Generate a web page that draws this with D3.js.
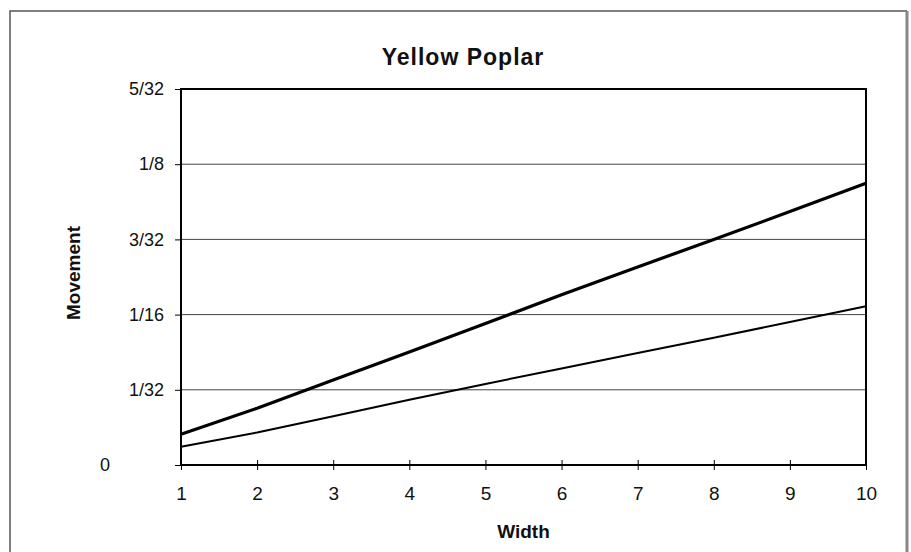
<!DOCTYPE html>
<html>
<head>
<meta charset="utf-8">
<script src="https://cdn.jsdelivr.net/npm/d3@7"></script>
<style>
    body { margin: 0; background: #fff; }
    text { font-family: "Liberation Sans", Arial, sans-serif; fill: #111; }
    .grid line { stroke: #444; stroke-width: 1; }
    .axis path, .axis line { stroke: #000; }
</style>
</head>
<body>
<script>
// data (movement in inches)
var widths = [1, 2, 3, 4, 5, 6, 7, 8, 9, 10];
var thickSeries = [0.0128, 0.0236, 0.0353, 0.0470, 0.0588, 0.0707, 0.0823, 0.0937, 0.1053, 0.1171];
var thinSeries = [0.0076, 0.0135, 0.0203, 0.0271, 0.0337, 0.0401, 0.0465, 0.0529, 0.0594, 0.0660];
var yTickValues = [0, 1 / 32, 1 / 16, 3 / 32, 1 / 8, 5 / 32];
var yTickLabels = ['0', '1/32', '1/16', '3/32', '1/8', '5/32'];
var xTickValues = [1, 2, 3, 4, 5, 6, 7, 8, 9, 10];

var width = 911,
    height = 552,
    margin = { top: 89, right: 45, bottom: 87, left: 181 },
    plotWidth = width - margin.left - margin.right,
    plotHeight = height - margin.top - margin.bottom;

var svg = d3.select('body').append('svg')
    .attr('width', width)
    .attr('height', height);

svg.append('rect')
    .attr('width', width)
    .attr('height', height)
    .attr('fill', '#fff');

// outer chart frame
svg.append('path')
    .attr('d', 'M10,560 L10,11 L907,11')
    .attr('fill', 'none')
    .attr('stroke', '#555')
    .attr('stroke-width', 1.5);
svg.append('line')
    .attr('x1', 907).attr('y1', 11).attr('x2', 907).attr('y2', 560)
    .attr('stroke', '#888')
    .attr('stroke-width', 3);

var x = d3.scaleLinear()
    .domain([1, 10])
    .range([0, plotWidth]);

var y = d3.scaleLinear()
    .domain([0, 5 / 32])
    .range([plotHeight, 0]);

var g = svg.append('g')
    .attr('transform', 'translate(' + margin.left + ',' + margin.top + ')');

// horizontal gridlines
g.append('g')
    .attr('class', 'grid')
    .selectAll('line')
    .data(yTickValues.slice(1, -1))
    .enter().append('line')
    .attr('x1', 0)
    .attr('x2', plotWidth)
    .attr('y1', d => y(d))
    .attr('y2', d => y(d));

// plot frame
g.append('rect')
    .attr('width', plotWidth)
    .attr('height', plotHeight)
    .attr('fill', 'none')
    .attr('stroke', '#000')
    .attr('stroke-width', 2);

var yAxis = d3.axisLeft(y)
    .tickValues(yTickValues)
    .tickFormat((d, i) => yTickLabels[i])
    .tickSize(6)
    .tickPadding(11);

var yAxisG = g.append('g')
    .attr('class', 'axis')
    .call(yAxis);
yAxisG.select('.domain').remove();
yAxisG.selectAll('text')
    .style('font-size', '18px');
// Excel put the zero label further out
yAxisG.selectAll('.tick')
    .filter(d => d === 0)
    .select('text')
    .attr('x', -71);

var xAxis = d3.axisBottom(x)
    .tickValues(xTickValues)
    .tickFormat(d3.format('d'))
    .tickSizeInner(5)
    .tickSizeOuter(0)
    .tickPadding(17);

var xAxisG = g.append('g')
    .attr('class', 'axis')
    .attr('transform', 'translate(0,' + plotHeight + ')')
    .call(xAxis);
xAxisG.select('.domain').remove();
xAxisG.selectAll('.tick line')
    .attr('y1', -5);
xAxisG.selectAll('text')
    .style('font-size', '19px');

var line = d3.line()
    .x((d, i) => x(widths[i]))
    .y(d => y(d));

g.append('path')
    .datum(thinSeries)
    .attr('d', line)
    .attr('fill', 'none')
    .attr('stroke', '#000')
    .attr('stroke-width', 2);

g.append('path')
    .datum(thickSeries)
    .attr('d', line)
    .attr('fill', 'none')
    .attr('stroke', '#000')
    .attr('stroke-width', 3.2);

// titles
svg.append('text')
    .attr('x', 463)
    .attr('y', 65)
    .attr('text-anchor', 'middle')
    .style('font-size', '23px')
    .style('font-weight', 'bold')
    .style('letter-spacing', '1px')
    .text('Yellow Poplar');

svg.append('text')
    .attr('x', margin.left + plotWidth / 2)
    .attr('y', 538)
    .attr('text-anchor', 'middle')
    .style('font-size', '19px')
    .style('font-weight', 'bold')
    .text('Width');

svg.append('text')
    .attr('transform', 'translate(80,' + (margin.top + plotHeight / 2 - 4) + ') rotate(-90)')
    .attr('text-anchor', 'middle')
    .style('font-size', '19px')
    .style('font-weight', 'bold')
    .text('Movement');
</script>
</body>
</html>
